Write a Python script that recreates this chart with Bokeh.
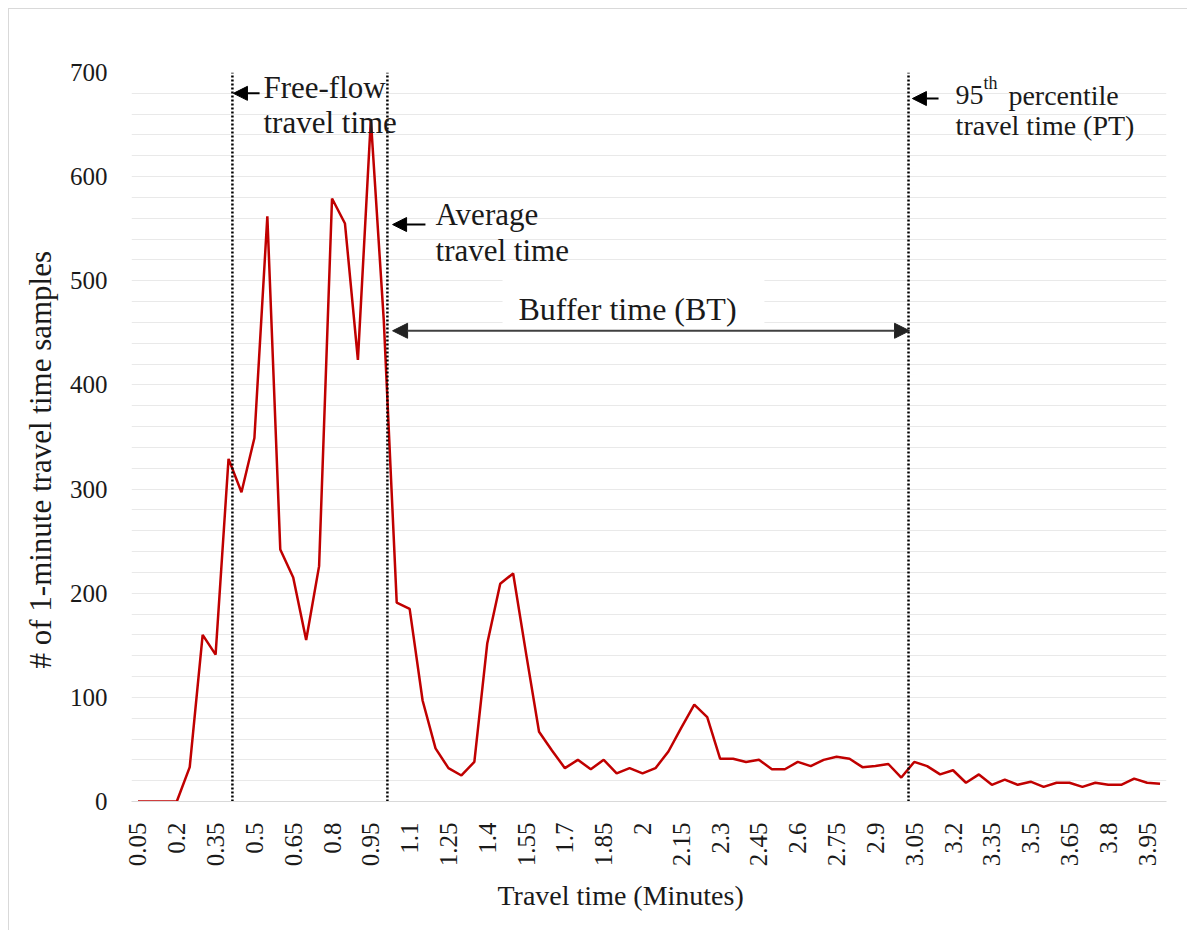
from bokeh.plotting import figure
from bokeh.embed import file_html
from bokeh.resources import INLINE
from bokeh.models import (FixedTicker, Label, Arrow, NormalHead, ColumnDataSource,
                          Range1d, Title)

# ---------------- data ----------------
travel_time = [0.05, 0.10, 0.15, 0.20, 0.25, 0.30, 0.35, 0.40, 0.45, 0.50,
               0.55, 0.60, 0.65, 0.70, 0.75, 0.80, 0.85, 0.90, 0.95, 1.00,
               1.05, 1.10, 1.15, 1.20, 1.25, 1.30, 1.35, 1.40, 1.45, 1.50,
               1.55, 1.60, 1.65, 1.70, 1.75, 1.80, 1.85, 1.90, 1.95, 2.00,
               2.05, 2.10, 2.15, 2.20, 2.25, 2.30, 2.35, 2.40, 2.45, 2.50,
               2.55, 2.60, 2.65, 2.70, 2.75, 2.80, 2.85, 2.90, 2.95, 3.00,
               3.05, 3.10, 3.15, 3.20, 3.25, 3.30, 3.35, 3.40, 3.45, 3.50,
               3.55, 3.60, 3.65, 3.70, 3.75, 3.80, 3.85, 3.90, 3.95, 4.00]

samples = [0, 0, 0, 0, 33, 160, 141, 329, 297, 349,
           562, 242, 215, 155, 226, 579, 555, 424, 655, 462,
           191, 185, 97, 51, 32, 25, 38, 152, 209, 219,
           142, 67, 49, 32, 40, 31, 40, 27, 32, 27,
           32, 48, 71, 93, 81, 41, 41, 38, 40, 31,
           31, 38, 34, 40, 43, 41, 33, 34, 36, 23,
           38, 34, 26, 30, 18, 26, 16, 21, 16, 19,
           14, 18, 18, 14, 18, 16, 16, 22, 18, 17]

x_tick_values = [0.05, 0.20, 0.35, 0.50, 0.65, 0.80, 0.95, 1.10, 1.25, 1.40,
                 1.55, 1.70, 1.85, 2.00, 2.15, 2.30, 2.45, 2.60, 2.75, 2.90,
                 3.05, 3.20, 3.35, 3.50, 3.65, 3.80, 3.95]
x_tick_labels = ["0.05", "0.2", "0.35", "0.5", "0.65", "0.8", "0.95", "1.1", "1.25", "1.4",
                 "1.55", "1.7", "1.85", "2", "2.15", "2.3", "2.45", "2.6", "2.75", "2.9",
                 "3.05", "3.2", "3.35", "3.5", "3.65", "3.8", "3.95"]
y_ticks = [0, 100, 200, 300, 400, 500, 600, 700]

x_title = "Travel time (Minutes)"
y_title = "# of 1-minute travel time samples"

free_flow_tt = 0.415
average_tt = 1.014
pt95_tt = 3.028

FONT = "Liberation Serif"
TXT = "#1a1a1a"

# ---------------- figure ----------------
p = figure(width=1187, height=930, output_backend="svg", toolbar_location=None,
           x_range=Range1d(0.025, 4.025), y_range=Range1d(0, 700),
           min_border_left=131, min_border_right=21, min_border_top=72,
           min_border_bottom=129, background_fill_color="white",
           border_fill_color="white", outline_line_color=None)

p.stylesheets = [":host::after { content: ''; position: absolute; left: 8px; top: 8px; "
                 "right: 0px; bottom: 0px; border-top: 1px solid #D9D9D9; "
                 "border-left: 1px solid #D9D9D9; pointer-events: none; }"]

# grid
p.xgrid.visible = False
p.ygrid.ticker = FixedTicker(ticks=list(range(0, 701, 20)))
p.ygrid.grid_line_color = "#E9E9E9"
p.ygrid.grid_line_width = 1

# axes
p.xaxis.ticker = FixedTicker(ticks=x_tick_values)
p.xaxis.major_label_overrides = {t: l for t, l in zip(x_tick_values, x_tick_labels)}
p.xaxis.major_label_orientation = 3.14159265 / 2
p.xaxis.axis_line_color = "#D9D9D9"
p.xaxis.axis_line_width = 1
p.xaxis.major_tick_line_color = None
p.xaxis.minor_tick_line_color = None
p.xaxis.major_label_standoff = 15

p.yaxis.ticker = FixedTicker(ticks=y_ticks)
p.yaxis.axis_line_color = None
p.yaxis.major_tick_line_color = None
p.yaxis.minor_tick_line_color = None
p.yaxis.major_label_standoff = 18

for ax in (p.xaxis[0], p.yaxis[0]):
    ax.major_label_text_font = FONT
    ax.major_label_text_font_size = "25px"
    ax.major_label_text_color = TXT

# axis titles (as side-panel titles so they can be offset like the reference)
p.add_layout(Title(text=x_title, align="left", offset=366, standoff=16,
                   text_font=FONT, text_font_size="28px", text_font_style="normal",
                   text_color=TXT), "below")
p.add_layout(Title(text=y_title, align="left", offset=133, standoff=18,
                   text_font=FONT, text_font_size="31px", text_font_style="normal",
                   text_color=TXT), "left")

# white box behind the buffer-time label
p.quad(left=[1.459], right=[2.471], bottom=[458], top=[505],
       fill_color="white", line_color=None)

# data line
src = ColumnDataSource(dict(x=travel_time, y=samples))
p.line("x", "y", source=src, line_color="#C00000", line_width=2.5)

# vertical dotted markers
for xv in (free_flow_tt, average_tt, pt95_tt):
    p.segment(x0=[xv], y0=[0], x1=[xv], y1=[700], line_color="black",
              line_width=2.5, line_dash="2 2")

# arrows
def head(color="black", size=14):
    return NormalHead(size=size, fill_color=color, line_color=color)

p.add_layout(Arrow(end=head(), x_start=0.52, y_start=680, x_end=0.419, y_end=680,
                   line_color="black", line_width=2))
p.add_layout(Arrow(end=head(), x_start=1.161, y_start=554, x_end=1.034, y_end=554,
                   line_color="black", line_width=2))
p.add_layout(Arrow(end=head(), x_start=3.144, y_start=675, x_end=3.043, y_end=675,
                   line_color="black", line_width=2))
p.add_layout(Arrow(start=head("#222222", 15), end=head("#222222", 15),
                   x_start=1.034, y_start=452, x_end=3.032, y_end=452,
                   line_color="#404040", line_width=2))

def lab(x, y, text, size, align="left"):
    p.add_layout(Label(x=x, y=y, text=text, text_font=FONT,
                       text_font_size=size, text_color=TXT, text_align=align,
                       text_baseline="alphabetic"))

lab(0.535, 686, "Free-flow", "31px")
lab(0.535, 652, "travel time", "31px")
lab(1.200, 564, "Average", "31px")
lab(1.200, 529, "travel time", "31px")
lab(1.942, 473, "Buffer time (BT)", "32px", align="center")
lab(3.210, 678, "95", "28px")
lab(3.318, 690, "th", "18px")
lab(3.414, 678, "percentile", "28px")
lab(3.210, 649, "travel time (PT)", "28px")

open("out.html", "w").write(file_html(p, INLINE))
